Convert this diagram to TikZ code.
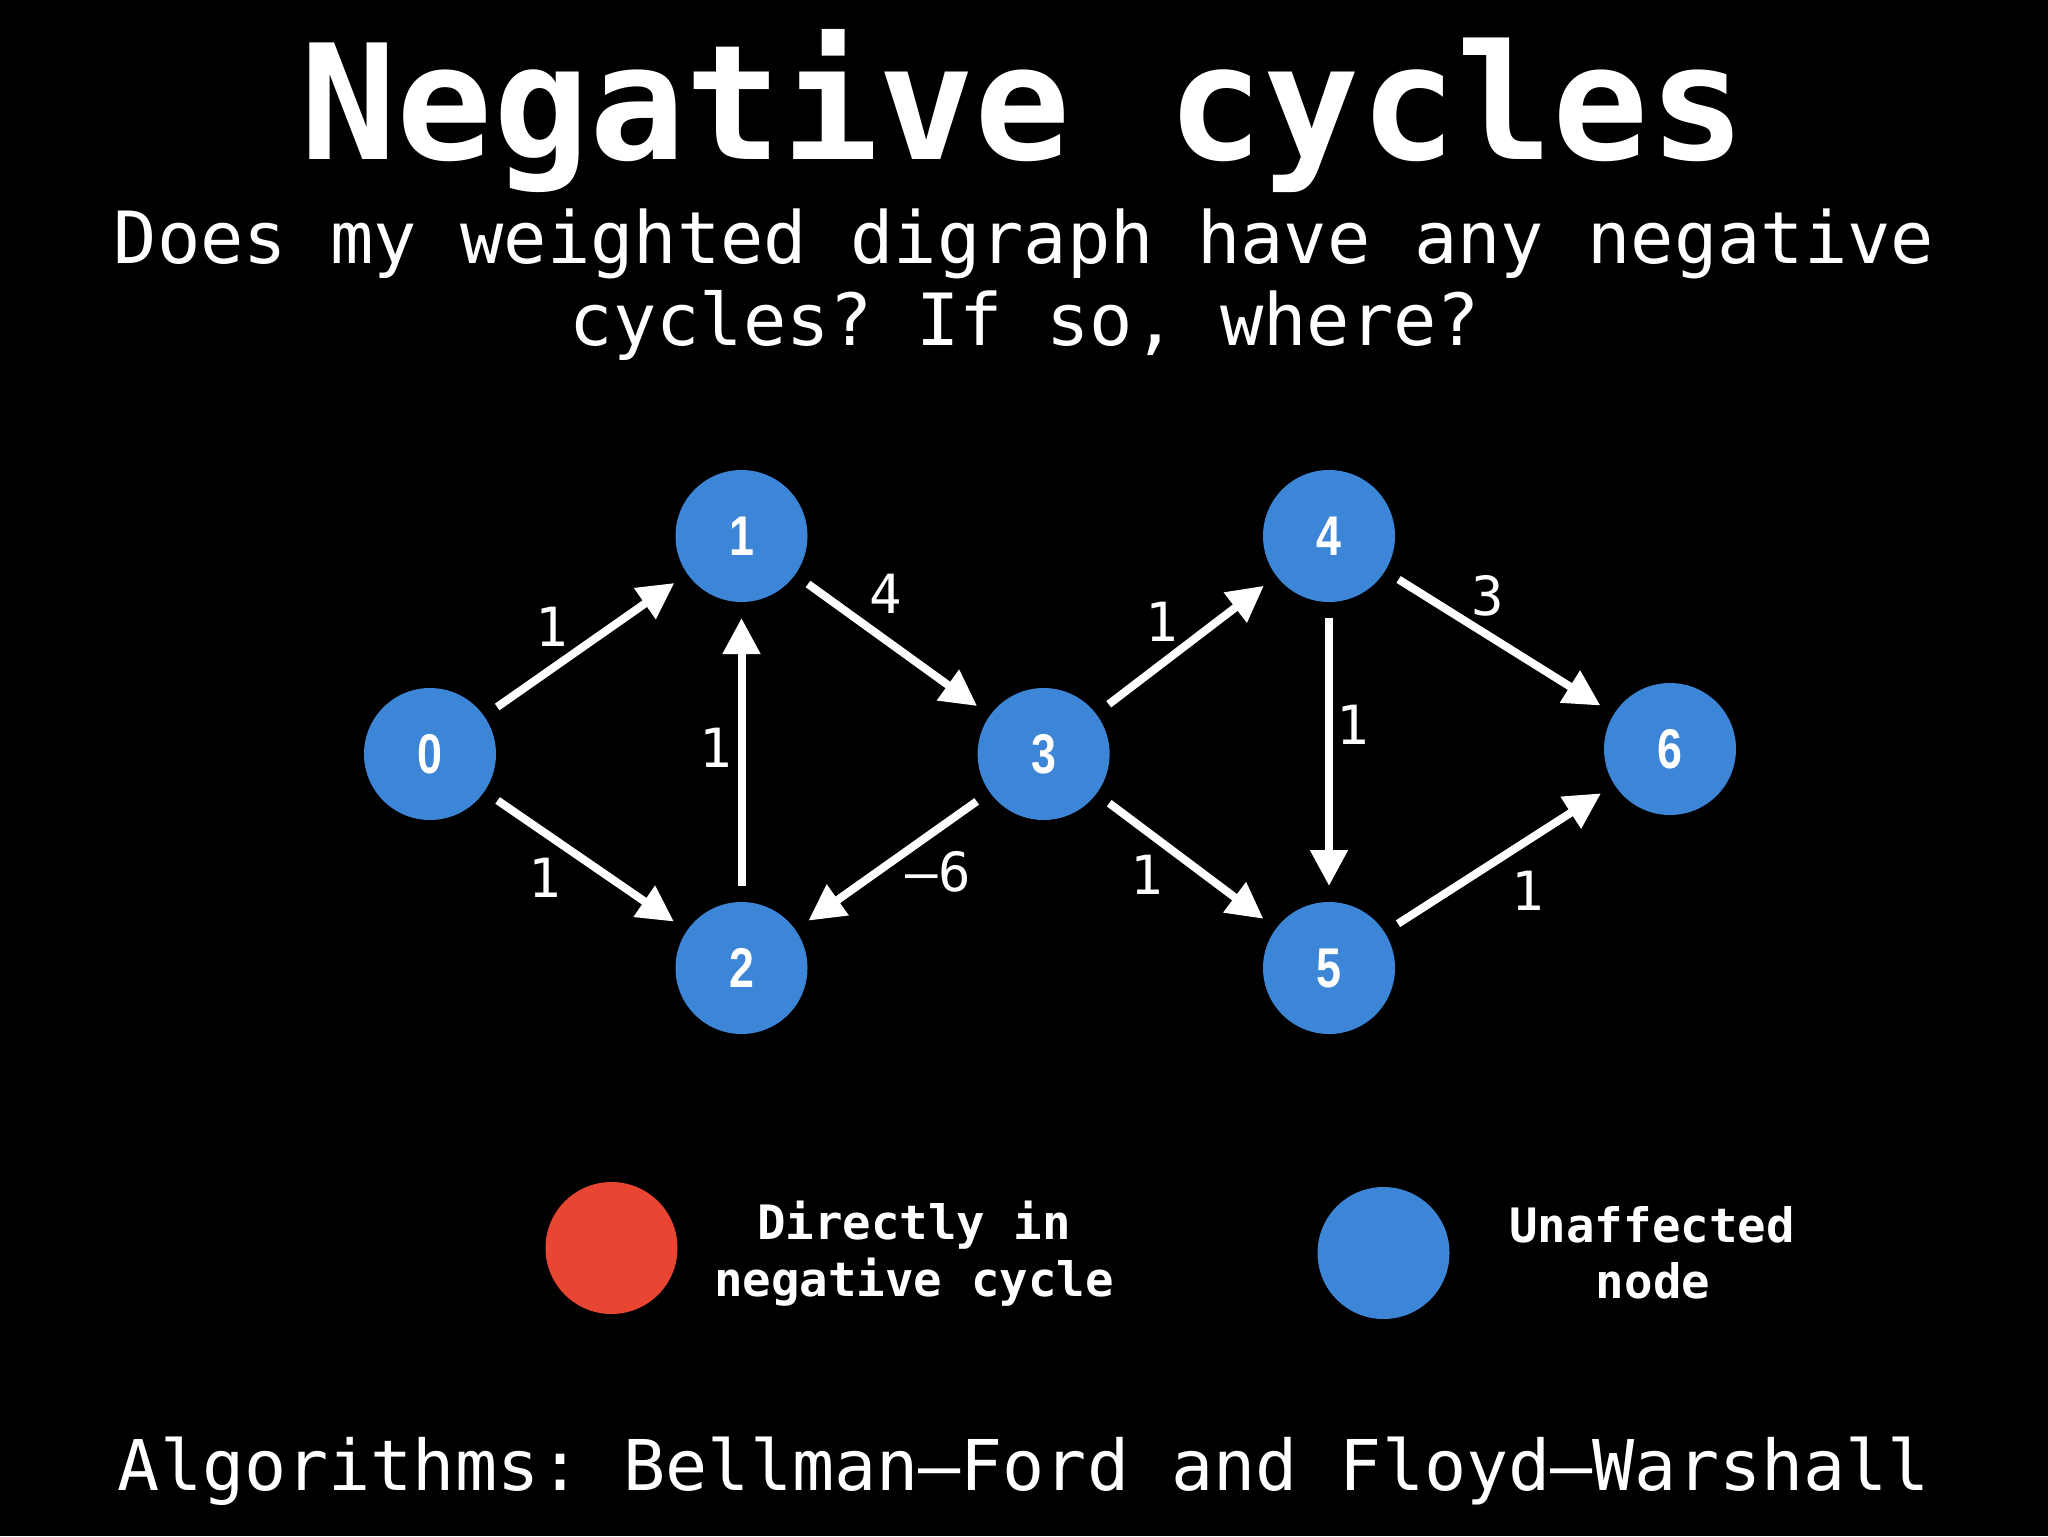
\documentclass[tikz,border=0pt]{standalone}
\usepackage{fontspec}
\usepackage{graphicx}
\setmonofont{DejaVu Sans Mono}
\newfontfamily\nodefont{Liberation Sans}
\usetikzlibrary{arrows.meta}
\definecolor{nodeblue}{RGB}{61,133,214}
\definecolor{nodered}{RGB}{232,70,50}
\begin{document}
\begin{tikzpicture}[x=0.5pt,y=-0.5pt,
  vertex/.style={circle,fill=nodeblue,minimum size=66pt,inner sep=0pt,outer sep=8pt,text=white,
    font=\nodefont\bfseries\fontsize{28}{28}\selectfont},
  legdot/.style={circle,minimum size=66pt,inner sep=0pt},
  edgeline/.style={draw=white,line width=4pt,-{Triangle[length=18pt,width=18pt]}},
  wlabel/.style={text=white,inner sep=0pt,font=\ttfamily\fontsize{27}{27}\selectfont},
  legtext/.style={text=white,inner sep=0pt,anchor=base,font=\ttfamily\bfseries\fontsize{23.7}{23.7}\selectfont},
  subtext/.style={text=white,inner sep=0pt,anchor=base,font=\ttfamily\fontsize{36}{36}\selectfont}]
\useasboundingbox (0,0) rectangle (2048,1536);
\fill[black] (0,0) rectangle (2048,1536);

% title
\node[text=white,inner sep=0pt,anchor=base,font=\ttfamily\bfseries\fontsize{80}{80}\selectfont] (title) at (1023,159) {Negative cycles};
\node[subtext] (sub1) at (1024,263) {Does my weighted digraph have any negative};
\node[subtext] (sub2) at (1025,345) {cycles? If so, where?};

% vertices
\node[vertex] (n0) at (430,754) {\scalebox{0.8}[1]{0}};
\node[vertex] (n1) at (741.5,536) {\scalebox{0.8}[1]{1}};
\node[vertex] (n2) at (741.5,968) {\scalebox{0.8}[1]{2}};
\node[vertex] (n3) at (1043.6,754) {\scalebox{0.8}[1]{3}};
\node[vertex] (n4) at (1329,536) {\scalebox{0.8}[1]{4}};
\node[vertex] (n5) at (1329,968) {\scalebox{0.8}[1]{5}};
\node[vertex] (n6) at (1670,749) {\scalebox{0.8}[1]{6}};

% edges
\draw[edgeline] (n0) -- (n1);
\draw[edgeline] (n0) -- (n2);
\draw[edgeline] (n2) -- (n1);
\draw[edgeline] (n1) -- (n3);
\draw[edgeline] (n3) -- (n2);
\draw[edgeline] (n3) -- (n4);
\draw[edgeline] (n3) -- (n5);
\draw[edgeline] (n4) -- (n5);
\draw[edgeline] (n4) -- (n6);
\draw[edgeline] (n5) -- (n6);

% weights
\node[wlabel] (w01) at (552,627) {1};
\node[wlabel] (w02) at (545,878) {1};
\node[wlabel] (w21) at (716,748) {1};
\node[wlabel] (w13) at (886,594) {4};
\node[wlabel] (w32) at (938,872) {–6};
\node[wlabel] (w34) at (1162,622) {1};
\node[wlabel] (w35) at (1147,875) {1};
\node[wlabel] (w45) at (1353,725) {1};
\node[wlabel] (w46) at (1488,596) {3};
\node[wlabel] (w56) at (1528,891) {1};

% legend
\node[legdot,fill=nodered] (legred) at (611.5,1248) {};
\node[legdot,fill=nodeblue] (legblue) at (1383.5,1253) {};
\node[legtext] (lr1) at (914,1239) {Directly in};
\node[legtext] (lr2) at (914,1296) {negative cycle};
\node[legtext] (lb1) at (1652,1242) {Unaffected};
\node[legtext] (lb2) at (1653,1298) {node};

% bottom
\node[subtext,font=\ttfamily\fontsize{35}{35}\selectfont] (algos) at (1024,1490) {Algorithms: Bellman–Ford and Floyd–Warshall};
\end{tikzpicture}
\end{document}
